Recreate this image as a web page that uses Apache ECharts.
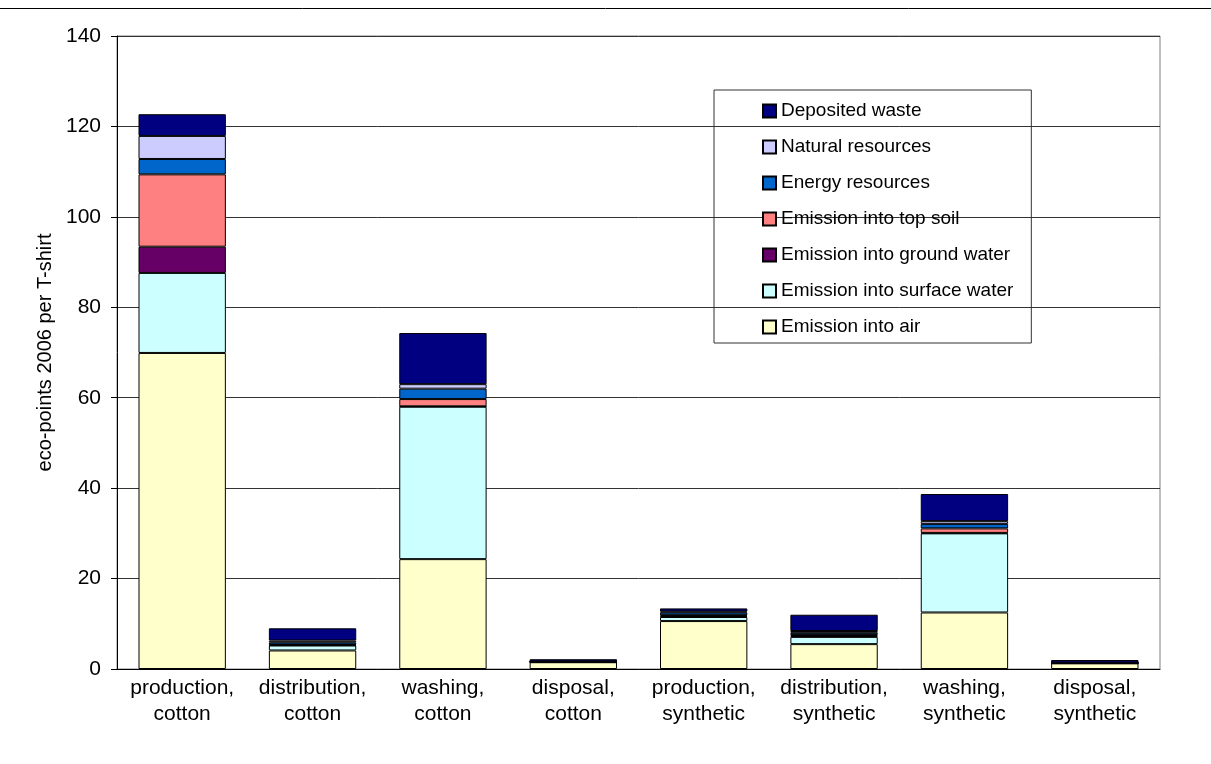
<!DOCTYPE html>
<html>
<head>
<meta charset="utf-8">
<script src="https://cdn.jsdelivr.net/npm/echarts@6/dist/echarts.min.js"></script>
<style>
html, body { margin: 0; padding: 0; background: #fff; }
#main { width: 1211px; height: 764px; }
</style>
</head>
<body>
<div id="main"></div>
<script>
// categories
var categories = ["production,\ncotton", "distribution,\ncotton", "washing,\ncotton", "disposal,\ncotton",
	"production,\nsynthetic", "distribution,\nsynthetic", "washing,\nsynthetic", "disposal,\nsynthetic"];
// y axis ticks
var yMin = 0, yMax = 140, yStep = 20;

// series values, bottom of the stack first
var airVals     = [69.9, 4.1, 24.3, 1.5, 10.6, 5.5, 12.5, 1.25];
var surfaceVals = [17.7, 1.1, 33.7, 0.05, 0.9, 1.6, 17.5, 0.05];
var groundVals  = [5.8, 0.1, 0.1, 0.02, 0.2, 0.2, 0.1, 0.02];
var topsoilVals = [16.0, 0.1, 1.6, 0.02, 0.2, 0.2, 1.0, 0.02];
var energyVals  = [3.4, 0.5, 2.3, 0.05, 0.6, 0.5, 1.0, 0.03];
var naturalVals = [5.1, 0.4, 1.0, 0.02, 0.2, 0.4, 0.6, 0.02];
var wasteVals   = [4.8, 2.7, 11.3, 0.5, 0.7, 3.6, 6.0, 0.6];

var seriesNames = ["Emission into air", "Emission into surface water", "Emission into ground water",
	"Emission into top soil", "Energy resources", "Natural resources", "Deposited waste"];
var seriesData = [airVals, surfaceVals, groundVals, topsoilVals, energyVals, naturalVals, wasteVals];
var seriesColors = ["#FFFFCC", "#CCFFFF", "#660066", "#FF8080", "#0066CC", "#CCCCFF", "#000080"];

var font = "Arial, 'Liberation Sans', sans-serif";

function makeSeries() {
	var list = [];
	for (var i = 0; i < seriesNames.length; i++) {
		list.push({
			name: seriesNames[i],
			type: "bar",
			stack: "total",
			barCategoryGap: "33%",
			data: seriesData[i],
			itemStyle: { color: seriesColors[i], borderColor: "#000", borderWidth: 1 },
			emphasis: { disabled: true }
		});
	}
	return list;
}

// legend lists the top of the stack first
var legendNames = seriesNames.slice().reverse();

var option = {
	backgroundColor: "#fff",
	animation: false,
	textStyle: { fontFamily: font },
	grid: { left: 117, right: 51, top: 36, bottom: 95, show: true, borderColor: "#808080", borderWidth: 1 },
	legend: {
		data: legendNames,
		icon: "rect",
		orient: "vertical",
		left: 714,
		top: 90,
		padding: [11, 18, 6, 48],
		itemGap: 16,
		itemWidth: 13,
		itemHeight: 13,
		borderColor: "#333",
		borderWidth: 1,
		textStyle: { fontSize: 19, color: "#000", fontFamily: font, lineHeight: 20 }
	},
	xAxis: {
		type: "category",
		data: categories,
		axisLine: { lineStyle: { color: "#000" } },
		axisTick: { length: 6, lineStyle: { color: "#000" } },
		axisLabel: { color: "#000", fontSize: 21, lineHeight: 26, margin: 6, interval: 0 }
	},
	yAxis: {
		type: "value",
		min: yMin,
		max: yMax,
		interval: yStep,
		name: "eco-points 2006 per T-shirt",
		nameLocation: "middle",
		nameGap: 51,
		nameTextStyle: { color: "#000", fontSize: 20 },
		axisLine: { show: true, lineStyle: { color: "#000" } },
		axisTick: { show: true, length: 6, lineStyle: { color: "#000" } },
		axisLabel: { color: "#000", fontSize: 21, margin: 16 },
		splitLine: { lineStyle: { color: "#333" } }
	},
	graphic: [{
		type: "line",
		shape: { x1: 0, y1: 8.5, x2: 1211, y2: 8.5 },
		style: { stroke: "#000", lineWidth: 1 }
	}],
	series: makeSeries()
};

var myChart = echarts.init(document.getElementById("main"));
myChart.setOption(option);
</script>
</body>
</html>
